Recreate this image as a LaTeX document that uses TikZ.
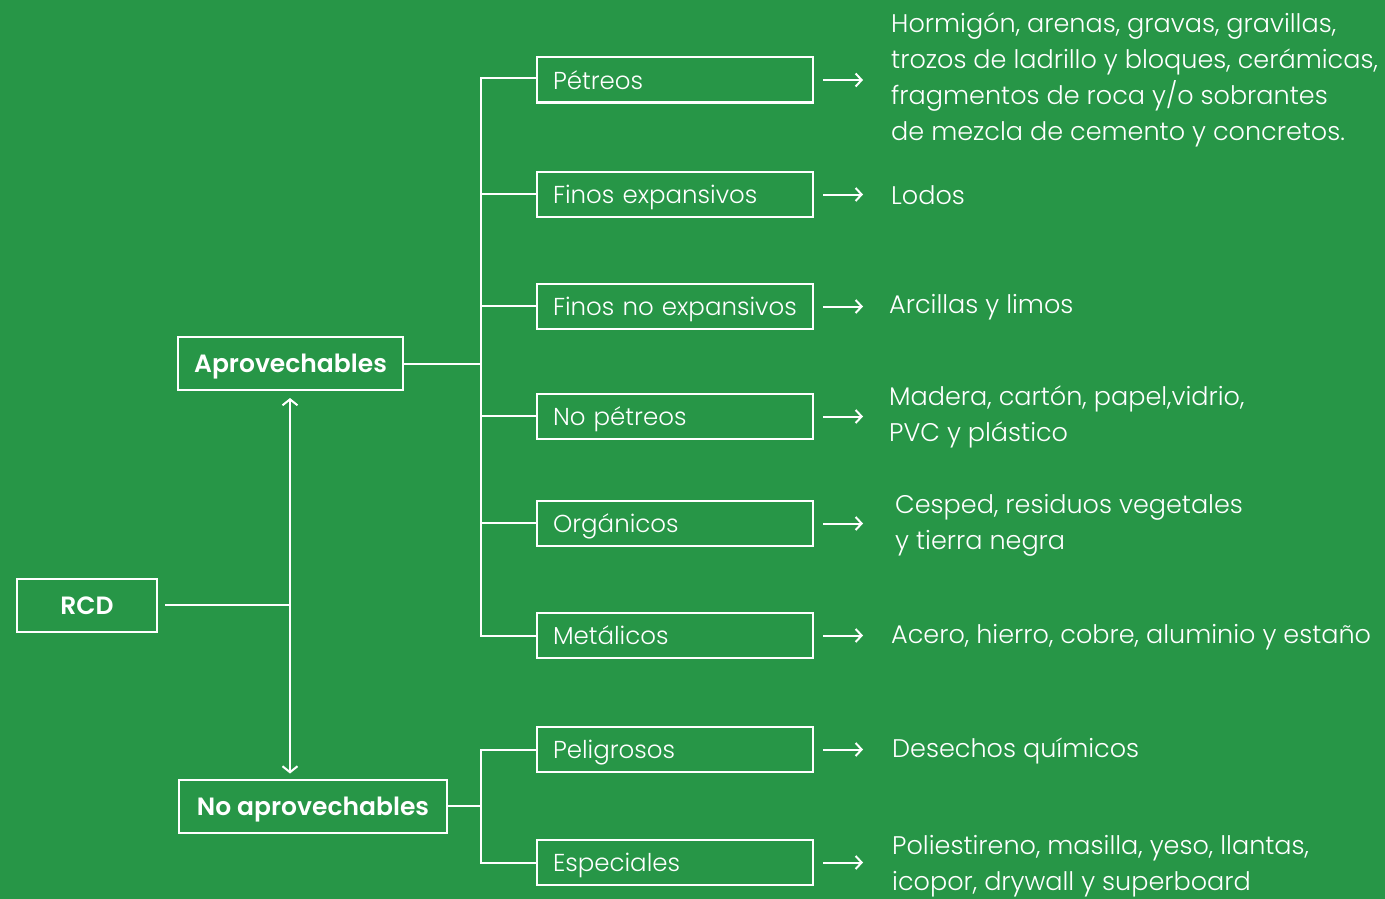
\documentclass[tikz,border=0pt]{standalone}
\usepackage{fontspec}
\setmainfont{Poppins}[UprightFont={* Light}, BoldFont={* SemiBold}]
\usetikzlibrary{arrows.meta}
\definecolor{bg}{RGB}{39,150,71}
\tikzset{
  ln/.style={draw=white, line width=2pt},
  cat/.style={ln, rectangle, minimum height=45pt, text width=244pt, inner xsep=16pt, inner ysep=0pt, align=left, text=white, font=\fontsize{24.5}{30}\selectfont, anchor=center, text depth=0pt, text height=18pt},
  head/.style={ln, rectangle, minimum height=53pt, inner xsep=16pt, inner ysep=0pt, text=white, font=\fontsize{25}{30}\selectfont\bfseries, text depth=0pt, text height=18pt},
  desc/.style={anchor=west, align=left, text=white, inner sep=0pt, font=\fontsize{25.5}{36}\selectfont},
  arr/.style={ln, -{Straight Barb[length=6pt,width=13pt,line width=2pt]}},
  varr/.style={ln, -{Straight Barb[length=6pt,width=15pt,line width=2pt]}},
}
\begin{document}
\begin{tikzpicture}[x=1pt,y=-1pt]
\fill[bg] (0,0) rectangle (1385,899);
\useasboundingbox (0,0) rectangle (1385,899);
% heads
\node[head, minimum width=140pt] (rcd) at (87,605) {RCD};
\node[head, minimum width=223pt] (apro) at (290.5,363.5) {Aprovechables};
\node[head, minimum width=268pt] (noapro) at (313,806) {No aprovechables};
% categories
\node[cat, minimum width=276pt] (c1) at (675,80) {Pétreos};
\node[cat] (c2) at (675,194.5) {Finos expansivos};
\node[cat] (c3) at (675,306.5) {Finos no expansivos};
\node[cat] (c4) at (675,416.5) {No pétreos};
\node[cat] (c5) at (675,523.5) {Orgánicos};
\node[cat] (c6) at (675,635.5) {Metálicos};
\node[cat] (c7) at (675,749.5) {Peligrosos};
\node[cat] (c8) at (675,862.5) {Especiales};
% descriptions
\node[desc] (d1) at (891,80) {Hormigón, arenas, gravas, gravillas,\\trozos de ladrillo y bloques, cerámicas,\\fragmentos de roca y/o sobrantes\\de mezcla de cemento y concretos.};
\node[desc] (d2) at (891,195) {Lodos};
\node[desc] (d3) at (889,307) {Arcillas y limos};
\node[desc] (d4) at (889,417) {Madera, cartón, papel,vidrio,\\PVC y plástico};
\node[desc] (d5) at (895,525) {Cesped, residuos vegetales\\y tierra negra};
\node[desc] (d6) at (891,637) {Acero, hierro, cobre, aluminio y estaño};
\node[desc] (d7) at (892,751) {Desechos químicos};
\node[desc] (d8) at (892,866) {Poliestireno, masilla, yeso, llantas,\\icopor, drywall y superboard};
% junctions
\coordinate (ja) at (481,363.5);
\coordinate (jn) at (481,806);
\coordinate (jr) at (290,605);
% aprovechables tree
\draw[ln] (apro.east) -- (ja);
\draw[ln] ([yshift=2pt]c1.west) -| (ja |- c6.west) -- (c6.west);
\foreach \c in {c2,c3,c4,c5}{\draw[ln] ([yshift=1pt]\c.west) -- ++(-56pt,0);}
% no aprovechables tree
\draw[ln] (noapro.east) -- (jn);
\draw[ln] (c7.west) -| (jn |- c8.west) -- (c8.west);
% rcd
\draw[ln] ([xshift=7pt]rcd.east) -- (jr);
\draw[varr] (jr) -- ([yshift=-7pt]jr |- apro.south);
\draw[varr] (jr) -- ([yshift=5pt]jr |- noapro.north);
% arrows to descriptions
\foreach \c in {c1,c2,c3,c4,c5,c6,c7,c8}{\draw[arr] ([xshift=9pt]\c.east) -- ++(40pt,0);}
\end{tikzpicture}
\end{document}
